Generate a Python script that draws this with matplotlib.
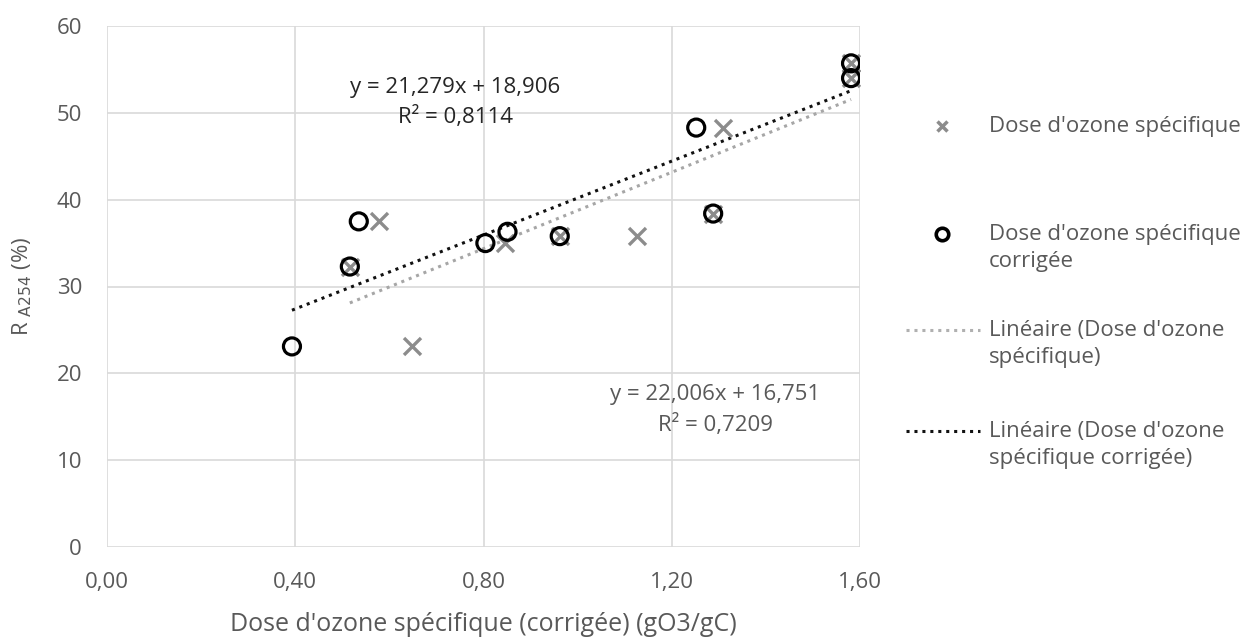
import matplotlib
matplotlib.use('Agg')
import matplotlib.pyplot as plt
from matplotlib.lines import Line2D
from matplotlib.ticker import FuncFormatter
import numpy as np

# uncorrected specific ozone dose (x markers)
dose = [0.516, 0.578, 0.649, 0.845, 0.962, 1.126, 1.288, 1.308, 1.581, 1.581]
r_dose = [32.3, 37.5, 23.1, 35.0, 35.8, 35.8, 38.4, 48.3, 55.7, 54.0]

# corrected specific ozone dose (circles)
dose_corr = [0.393, 0.516, 0.535, 0.804, 0.851, 0.962, 1.252, 1.288, 1.581, 1.581]
r_corr = [23.1, 32.3, 37.5, 35.0, 36.3, 35.8, 48.3, 38.4, 55.7, 54.0]

# trend lines as printed on the chart: slope, intercept, R2
fit_dose = [22.006, 16.751, 0.7209]
fit_corr = [21.279, 18.906, 0.8114]

labels = ["Dose d'ozone spécifique",
          "Dose d'ozone spécifique\ncorrigée",
          "Linéaire (Dose d'ozone\nspécifique)",
          "Linéaire (Dose d'ozone\nspécifique corrigée)"]

GRAY = '#8c8c8c'
TXT = '#595959'
DOT = (0, (1, 1.6))
plt.rcParams['font.family'] = ['Open Sans', 'DejaVu Sans']

fig = plt.figure(figsize=(12.51, 6.37), dpi=100)
ax = fig.add_axes([107 / 1251, 1 - 547 / 637, (860 - 107) / 1251, (547 - 26) / 637])

def frm(v):
    return ('%.2f' % v).replace('.', ',')

def eq(f):
    return ('y = %.3fx + %.3f\nR² = %.4f' % (f[0], f[1], f[2])).replace('.', ',')

# trend lines
xs = np.array([min(dose), max(dose)])
ax.plot(xs, fit_dose[0] * xs + fit_dose[1], color='#a6a6a6', lw=2.2, ls=DOT, zorder=2)
xc = np.array([min(dose_corr), max(dose_corr)])
ax.plot(xc, fit_corr[0] * xc + fit_corr[1], color='#111111', lw=2.2, ls=DOT, zorder=2)

ax.scatter(dose, r_dose, marker='x', s=150, color=GRAY, linewidths=2.4, zorder=3)
ax.scatter(dose_corr, r_corr, marker='o', s=150, facecolors='none', edgecolors='black',
           linewidths=2.3, zorder=4)

ax.text(0.74, 51.2, eq(fit_corr), ha='center', va='center', fontsize=16,
        color='#262626', linespacing=1.5)
ax.text(1.292, 15.75, eq(fit_dose), ha='center', va='center', fontsize=16,
        color=TXT, linespacing=1.5)

ax.set_xlim(0, 1.6)
ax.set_ylim(0, 60)
ax.set_xticks(np.arange(0, 1.61, 0.4))
ax.set_yticks(np.arange(0, 61, 10))
ax.xaxis.set_major_formatter(FuncFormatter(lambda v, p: frm(v)))
ax.grid(True, color='#d9d9d9', lw=1.2)
ax.set_axisbelow(True)
for s in ax.spines.values():
    s.set_visible(False)
ax.tick_params(length=0, labelsize=16, colors=TXT)
ax.tick_params(axis='x', pad=18)
ax.tick_params(axis='y', pad=18)
ax.set_xlabel("Dose d'ozone spécifique (corrigée) (gO3/gC)", fontsize=18, color=TXT, labelpad=14)
ax.set_ylabel(r'R $_{\mathrm{A254}}$ (%)', fontsize=16, color=TXT, labelpad=16)

# legend drawn by hand so handles line up with first text line
ys = [126, 234, 330, 431]
for i, y in enumerate(ys):
    fy = 1 - y / 637
    if i == 0:
        fig.add_artist(Line2D([942 / 1251], [fy], marker='x', color=GRAY, ms=7, mew=2.5, ls='none'))
    elif i == 1:
        fig.add_artist(Line2D([942 / 1251], [fy], marker='o', mfc='none', mec='black', ms=9, mew=2.6, ls='none'))
    else:
        col = '#b0b0b0' if i == 2 else '#111111'
        fig.add_artist(Line2D([906 / 1251, 980 / 1251], [fy, fy], color=col, lw=2.2, ls=DOT))
    fig.text(989 / 1251, fy + 10 / 637, labels[i], ha='left', va='top', fontsize=16,
             color=TXT, linespacing=1.37)

fig.savefig('out.png', dpi=100)
